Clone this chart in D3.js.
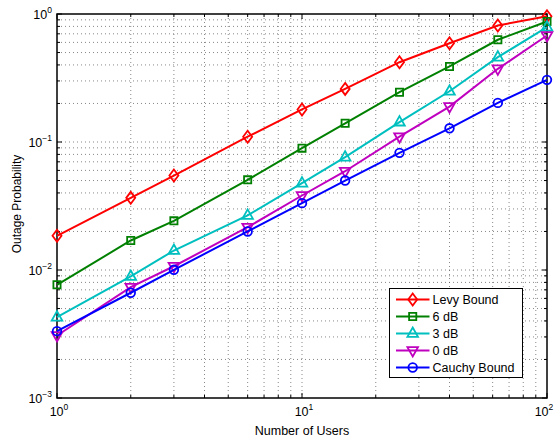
<!DOCTYPE html>
<html>
<head>
<meta charset="utf-8">
<script src="https://cdn.jsdelivr.net/npm/d3@7"></script>
<style>
  body { margin: 0; background: #fff; }
  text { font-family: "Liberation Sans", Arial, Helvetica, sans-serif; }
</style>
</head>
<body>
<svg id="chart" width="555" height="441"></svg>
<script>
const users = [1, 2, 3, 6, 10, 15, 25, 40, 63, 100]

const levyBound = [0.0185, 0.0366, 0.0547, 0.110, 0.1795, 0.260, 0.420, 0.591, 0.813, 0.96]
const db6 = [0.00766, 0.0170, 0.0242, 0.0506, 0.0895, 0.140, 0.245, 0.389, 0.629, 0.874]
const db3 = [0.00428, 0.0089, 0.0142, 0.0267, 0.0477, 0.0761, 0.143, 0.249, 0.460, 0.789]
const db0 = [0.00308, 0.00734, 0.0107, 0.0216, 0.0382, 0.0591, 0.110, 0.189, 0.373, 0.679]
const cauchyBound = [0.00333, 0.00664, 0.01004, 0.0200, 0.0333, 0.050, 0.0823, 0.128, 0.202, 0.306]

const seriesNames = ['Levy Bound', '6 dB', '3 dB', '0 dB', 'Cauchy Bound']
const xTickExps = [0, 1, 2]
const yTickExps = [0, -1, -2, -3]

const series = [
  {name: seriesNames[0], values: levyBound, color: '#ff0000', marker: 'diamond'},
  {name: seriesNames[1], values: db6, color: '#008000', marker: 'square'},
  {name: seriesNames[2], values: db3, color: '#00bfbf', marker: 'triangleUp'},
  {name: seriesNames[3], values: db0, color: '#bf00bf', marker: 'triangleDown'},
  {name: seriesNames[4], values: cauchyBound, color: '#0000ff', marker: 'circle'},
]

const margins = {left: 57, top: 14, right: 8, bottom: 43}
const width = 555
const height = 441

const x = d3.scaleLog().domain([1, 100]).range([margins.left, width - margins.right])
const y = d3.scaleLog().domain([0.001, 1]).range([height - margins.bottom, margins.top])

const svg = d3.select('#chart')

// minor + major values for grid
const xGridVals = []
for (let e = 0; e < 2; e++) for (let m = 1; m < 10; m++) xGridVals.push(m * 10 ** e)
xGridVals.push(100)
const yGridVals = []
for (let e = -3; e < 0; e++) for (let m = 1; m < 10; m++) yGridVals.push(m * 10 ** e)
yGridVals.push(1)

const grid = svg.append('g')
  .attr('stroke', '#555')
  .attr('stroke-width', 0.7)
  .attr('stroke-dasharray', '1,3')
grid.selectAll('.gx').data(xGridVals.slice(1, -1)).join('line')
  .attr('x1', d => x(d)).attr('x2', d => x(d))
  .attr('y1', y(1)).attr('y2', y(0.001))
grid.selectAll('.gy').data(yGridVals.slice(1, -1)).join('line')
  .attr('class', 'gy')
  .attr('y1', d => y(d)).attr('y2', d => y(d))
  .attr('x1', x(1)).attr('x2', x(100))

// ticks on all four sides, pointing inward (matlab box style)
const isMajor = v => Math.abs(Math.log10(v) - Math.round(Math.log10(v))) < 1e-9
const ticks = svg.append('g').attr('stroke', '#000').attr('stroke-width', 1)
xGridVals.forEach(v => {
  const len = isMajor(v) ? 5 : 3
  ticks.append('line').attr('x1', x(v)).attr('x2', x(v)).attr('y1', y(0.001)).attr('y2', y(0.001) - len)
  ticks.append('line').attr('x1', x(v)).attr('x2', x(v)).attr('y1', y(1)).attr('y2', y(1) + len)
})
yGridVals.forEach(v => {
  const len = isMajor(v) ? 5 : 3
  ticks.append('line').attr('y1', y(v)).attr('y2', y(v)).attr('x1', x(1)).attr('x2', x(1) + len)
  ticks.append('line').attr('y1', y(v)).attr('y2', y(v)).attr('x1', x(100)).attr('x2', x(100) - len)
})

svg.append('rect')
  .attr('x', x(1)).attr('y', y(1))
  .attr('width', x(100) - x(1)).attr('height', y(0.001) - y(1))
  .attr('fill', 'none').attr('stroke', '#000').attr('stroke-width', 1.5)

// tick labels: 10 with superscript exponent
const powLabel = (sel, e) => {
  sel.append('tspan').text('10')
  sel.append('tspan').attr('font-size', 8.5).attr('dy', -6).text(e < 0 ? '\u2212' + (-e) : e)
}
svg.append('g').selectAll('text').data(xTickExps).join('text')
  // keep the last label inside the window, as matlab does
  .attr('x', d => Math.min(x(10 ** d) + 2, width - 11))
  .attr('y', height - margins.bottom + 18)
  .attr('text-anchor', 'middle')
  .attr('font-size', 12.5)
  .attr('fill', '#000')
  .each(function(d) { powLabel(d3.select(this), d) })
svg.append('g').selectAll('text').data(yTickExps).join('text')
  .attr('x', margins.left - 5)
  .attr('y', d => y(10 ** d) + 5)
  .attr('text-anchor', 'end')
  .attr('font-size', 12.5)
  .attr('fill', '#000')
  .each(function(d) { powLabel(d3.select(this), d) })

svg.append('text')
  .attr('x', x(10)).attr('y', 435)
  .attr('text-anchor', 'middle').attr('font-size', 12.5)
  .text('Number of Users')
svg.append('text')
  .attr('transform', `translate(21, ${(y(1) + y(0.001)) / 2 - 2}) rotate(-90)`)
  .attr('text-anchor', 'middle').attr('font-size', 12)
  .text('Outage Probability')

// marker paths centred on 0,0
const markerPath = {
  diamond: 'M0,-6L4.5,0L0,6L-4.5,0Z',
  square: 'M-3.6,-3.6H3.6V3.6H-3.6Z',
  triangleUp: 'M0,-6L5.3,3.4L-5.3,3.4Z',
  triangleDown: 'M0,6L5.3,-3.4L-5.3,-3.4Z',
  circle: 'M4.3,0A4.3,4.3 0 1,1 -4.3,0A4.3,4.3 0 1,1 4.3,0Z',
}

const line = d3.line().x(d => x(d[0])).y(d => y(d[1]))

series.forEach(s => {
  const pts = users.map((u, i) => [u, s.values[i]])
  const g = svg.append('g')
  g.append('path').datum(pts)
    .attr('d', line)
    .attr('fill', 'none').attr('stroke', s.color).attr('stroke-width', 2)
  g.selectAll('path.m').data(pts).join('path')
    .attr('class', 'm')
    .attr('transform', d => `translate(${x(d[0])},${y(d[1])})`)
    .attr('d', markerPath[s.marker])
    .attr('fill', 'none').attr('stroke', s.color).attr('stroke-width', 1.8)
})

// legend
const legend = svg.append('g').attr('transform', 'translate(389.5, 288.5)')
legend.append('rect')
  .attr('width', 133).attr('height', 89)
  .attr('fill', '#fff').attr('stroke', '#000').attr('stroke-width', 1)
const rows = legend.selectAll('g.row').data(series).join('g')
  .attr('class', 'row')
  .attr('transform', (d, i) => `translate(0, ${11 + i * 17})`)
rows.append('line')
  .attr('x1', 6.5).attr('x2', 40)
  .attr('stroke', d => d.color).attr('stroke-width', 2)
rows.append('path')
  .attr('transform', 'translate(23.2, 0)')
  .attr('d', d => markerPath[d.marker])
  .attr('fill', 'none').attr('stroke', d => d.color).attr('stroke-width', 1.8)
rows.append('text')
  .attr('x', 43).attr('y', 4.5)
  .attr('font-size', 12.5).attr('fill', '#000')
  .text(d => d.name)
</script>
</body>
</html>
